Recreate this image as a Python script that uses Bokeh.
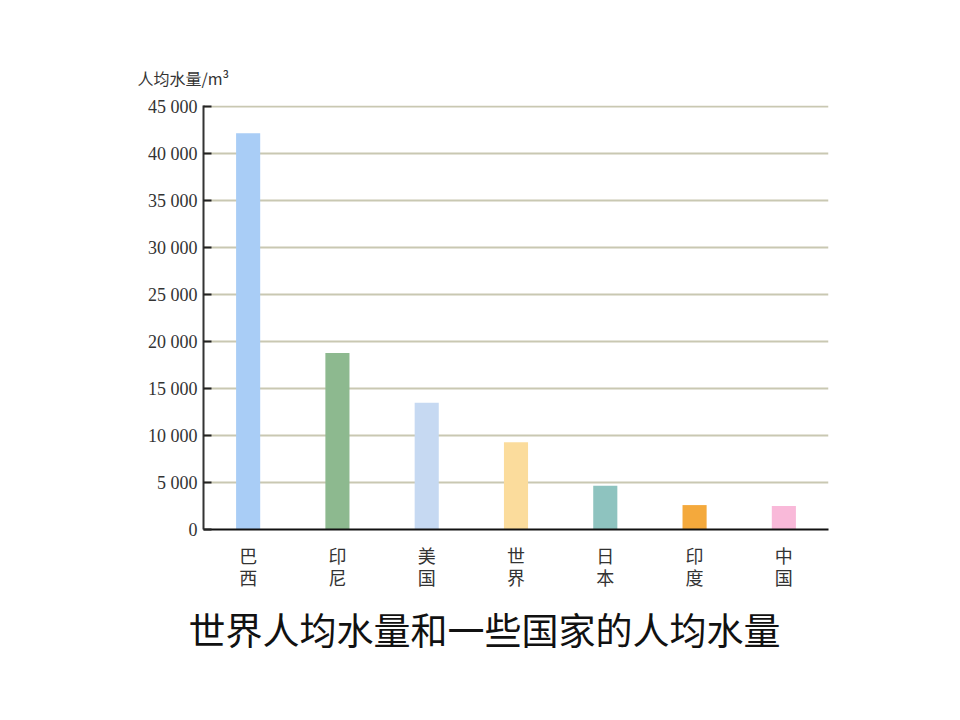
from bokeh.plotting import figure
from bokeh.models import (FactorRange, Range1d, FixedTicker, Title, ColumnDataSource,
                          CategoricalAxis, CustomJSTickFormatter)
from bokeh.embed import file_html
from bokeh.resources import INLINE

# data
categories = ["巴西", "印尼", "美国", "世界", "日本", "印度", "中国"]
values = [42200, 18800, 13500, 9300, 4650, 2600, 2500]
colors = ["#a9cdf6", "#8db98f", "#c6d9f2", "#fbdc9c", "#8ec3bf", "#f4a93c", "#f9b9d9"]
y_ticks = [0, 5000, 10000, 15000, 20000, 25000, 30000, 35000, 40000, 45000]
y_tick_labels = ["0", "5 000", "10 000", "15 000", "20 000", "25 000",
                 "30 000", "35 000", "40 000", "45 000"]
y_title = "人均水量/m³"
chart_title = "世界人均水量和一些国家的人均水量"

src = ColumnDataSource(dict(cat=categories, val=values, color=colors))

p = figure(width=960, height=720, output_backend="svg", toolbar_location=None,
           x_range=FactorRange(*categories, range_padding=0),
           y_range=Range1d(0, 45150),
           min_border_left=203, min_border_right=132,
           min_border_top=105, min_border_bottom=191)
p.outline_line_color = None
p.background_fill_color = "white"
p.border_fill_color = "white"

p.vbar(x="cat", top="val", width=0.27, color="color", source=src, line_color=None)

# grid
p.xgrid.grid_line_color = None
p.ygrid.ticker = FixedTicker(ticks=y_ticks)
p.ygrid.grid_line_color = "#c9c8b2"
p.ygrid.grid_line_width = 2

# y axis
p.yaxis.ticker = FixedTicker(ticks=y_ticks)
p.yaxis.major_label_overrides = {t: l for t, l in zip(y_ticks, y_tick_labels)}
p.yaxis.major_tick_in = 8
p.yaxis.major_tick_out = 0
p.yaxis.minor_tick_line_color = None
p.yaxis.major_tick_line_color = "#222222"
p.yaxis.major_tick_line_width = 2
p.yaxis.axis_line_color = "#333333"
p.yaxis.axis_line_width = 2
p.yaxis.major_label_text_font = "Liberation Serif"
p.yaxis.major_label_text_font_size = "18px"
p.yaxis.major_label_text_color = "#333333"
p.yaxis.major_label_standoff = 6

# x axis: first character of each label
xa = p.xaxis[0]
xa.formatter = CustomJSTickFormatter(code="return String(tick).charAt(0);")
xa.major_tick_line_color = None
xa.axis_line_color = "#111111"
xa.axis_line_width = 2
xa.major_label_text_font = "Noto Sans CJK SC"
xa.major_label_text_font_size = "18px"
xa.major_label_text_color = "#333333"
xa.major_label_standoff = 6

# second x axis: second character of each label
xa2 = CategoricalAxis(formatter=CustomJSTickFormatter(code="return String(tick).charAt(1);"))
xa2.axis_line_color = None
xa2.major_tick_line_color = None
xa2.major_label_text_font = "Noto Sans CJK SC"
xa2.major_label_text_font_size = "18px"
xa2.major_label_text_color = "#333333"
xa2.major_label_standoff = -13
p.add_layout(xa2, "below")

# titles
top = Title(text=y_title, align="left", offset=-66, text_font="Noto Sans CJK SC",
            text_font_size="16px", text_font_style="normal", text_color="#333333",
            standoff=32)
p.add_layout(top, "above")

bottom = Title(text=chart_title, align="left", offset=-15, text_font="Noto Sans CJK SC",
               text_font_size="37px", text_font_style="normal", text_color="#111111",
               standoff=14)
p.add_layout(bottom, "below")

open("out.html", "w").write(file_html(p, INLINE))
